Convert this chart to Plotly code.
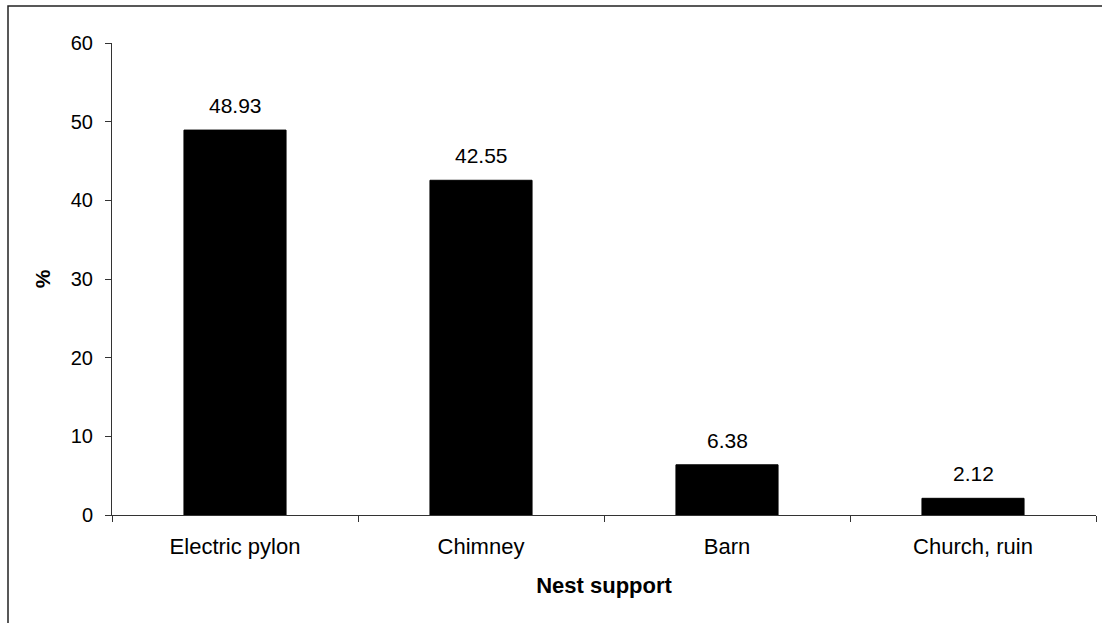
import plotly.graph_objects as go

# Nest support categories and share of nests (%)
categories = ["Electric pylon", "Chimney", "Barn", "Church, ruin"]
percent = [48.93, 42.55, 6.38, 2.12]
y_ticks = [0, 10, 20, 30, 40, 50, 60]

W, H = 1102, 623
L, R, T, B = 112, 6, 43, 108
pw, ph = W - L - R, H - T - B
FONT = "Liberation Sans, Arial"

fig = go.Figure(
    go.Bar(
        x=categories,
        y=percent,
        marker=dict(color="black", line=dict(color="black", width=1)),
        width=0.415,
        cliponaxis=False,
    )
)

# Value labels above each bar
for c, v in zip(categories, percent):
    fig.add_annotation(
        x=c, y=v, text=f"{v:.2f}", showarrow=False,
        yanchor="bottom", yshift=11,
        font=dict(family=FONT, size=21, color="black"),
    )

# Frame drawn around the whole chart area
fig.add_shape(
    type="rect", xref="paper", yref="paper",
    x0=(8 - L) / pw, x1=(W + 10 - L) / pw,
    y0=(H - B - (H + 10)) / ph, y1=(H - B - 6) / ph,
    line=dict(color="#222222", width=1.5), fillcolor="rgba(0,0,0,0)", layer="below",
)

fig.update_layout(
    width=W, height=H,
    margin=dict(l=L, r=R, t=T, b=B),
    paper_bgcolor="white", plot_bgcolor="white",
    font=dict(family=FONT, size=21, color="black"),
    showlegend=False,
    xaxis=dict(
        type="category",
        tickson="boundaries",
        ticks="outside", ticklen=6, tickcolor="#333333",
        showline=True, linecolor="#333333", linewidth=1,
        showgrid=False, zeroline=False,
        tickfont=dict(size=22),
        ticklabelstandoff=12,
        title=dict(text="<b>Nest support</b>", font=dict(size=22), standoff=19),
    ),
    yaxis=dict(
        range=[0, 60], tickvals=y_ticks,
        ticks="outside", ticklen=6, tickcolor="#333333",
        showline=True, linecolor="#333333", linewidth=1,
        showgrid=False, zeroline=False,
        tickfont=dict(size=20),
        ticklabelstandoff=8,
        title=dict(text="<b>%</b>", font=dict(size=21), standoff=14),
    ),
)

fig.write_html("out.html")
